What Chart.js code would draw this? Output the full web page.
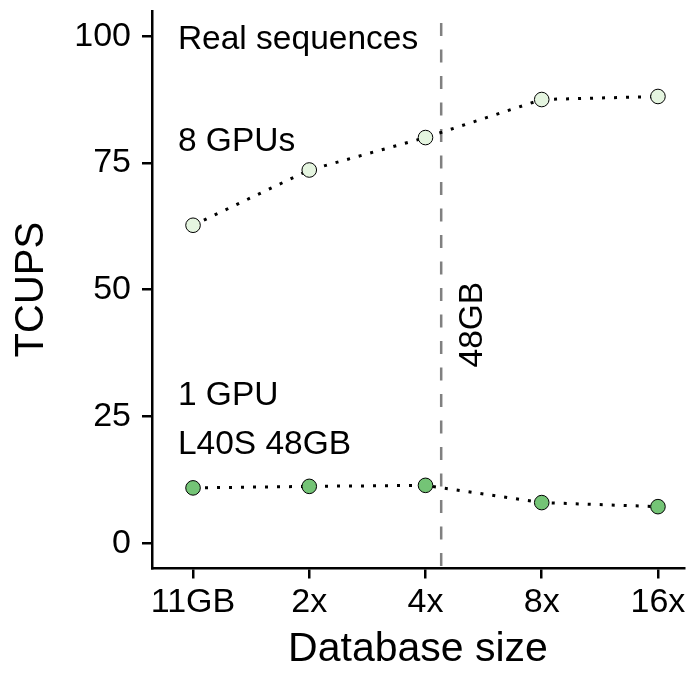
<!DOCTYPE html>
<html>
<head>
<meta charset="utf-8">
<script src="https://cdn.jsdelivr.net/npm/chart.js@4"></script>
<style>
  body { margin: 0; background: #fff; }
  #tcupsChart { display: block; }
</style>
</head>
<body>
<canvas id="tcupsChart" width="694" height="673"></canvas>
<script>
  const categories = ["11GB", "2x", "4x", "8x", "16x"];
  const eightGpus = [62.7, 73.6, 80.0, 87.5, 88.1];
  const oneGpu = [10.9, 11.2, 11.4, 8.0, 7.2];
  const yTicks = [0, 25, 50, 75, 100];
  const memoryLimit = 2.135; // where the 48GB line sits between 4x and 8x

  const FONT = "'Liberation Sans', Arial, Helvetica, sans-serif";

  // text notes + the dashed 48GB line, placed with the chart's own scales
  const notesPlugin = {
    id: "notes",
    beforeDatasetsDraw(chart) {
      const { ctx, chartArea, scales } = chart;
      const lx = scales.x.getPixelForValue(memoryLimit);
      ctx.save();
      ctx.strokeStyle = "#808080";
      ctx.lineWidth = 2.5;
      ctx.setLineDash([13, 13.5]);
      ctx.beginPath();
      ctx.moveTo(lx, scales.y.getPixelForValue(102.6));
      ctx.lineTo(lx, chartArea.bottom);
      ctx.stroke();
      ctx.restore();
    },
    afterDatasetsDraw(chart) {
      const { ctx, scales } = chart;
      const notes = [
        { text: "Real sequences", x: -0.13, y: 99.2 },
        { text: "8 GPUs", x: -0.13, y: 79.1 },
        { text: "1 GPU", x: -0.13, y: 29.0 },
        { text: "L40S 48GB", x: -0.13, y: 19.4 },
      ];
      ctx.save();
      ctx.fillStyle = "#000";
      ctx.font = "33.5px " + FONT;
      ctx.textAlign = "left";
      ctx.textBaseline = "middle";
      notes.forEach((n) => {
        ctx.fillText(n.text, scales.x.getPixelForValue(n.x), scales.y.getPixelForValue(n.y));
      });
      // rotated label beside the memory line
      ctx.translate(scales.x.getPixelForValue(2.41), scales.y.getPixelForValue(43.1));
      ctx.rotate(-Math.PI / 2);
      ctx.textAlign = "center";
      ctx.fillText("48GB", 0, 0);
      ctx.restore();
    },
  };

  const axisGrid = {
    drawOnChartArea: false,
    drawTicks: true,
    tickLength: 10,
    color: "#000",
    lineWidth: 2.5,
  };

  new Chart(document.getElementById("tcupsChart"), {
    type: "line",
    data: {
      datasets: [
        {
          label: "8 GPUs",
          data: eightGpus.map((v, i) => ({ x: i, y: v })),
          borderColor: "#000",
          borderWidth: 3,
          borderDash: [3, 9],
          pointRadius: 7.3,
          pointBorderWidth: 1,
          pointBorderColor: "#000",
          pointBackgroundColor: "#e5f5e0",
          tension: 0,
        },
        {
          label: "1 GPU",
          data: oneGpu.map((v, i) => ({ x: i, y: v })),
          borderColor: "#000",
          borderWidth: 3,
          borderDash: [3, 9],
          pointRadius: 7.3,
          pointBorderWidth: 1,
          pointBorderColor: "#000",
          pointBackgroundColor: "#74c476",
          tension: 0,
        },
      ],
    },
    options: {
      responsive: false,
      animation: false,
      devicePixelRatio: 1,
      layout: { padding: { top: 10.8, right: 10, left: 0, bottom: 0 } },
      plugins: {
        legend: { display: false },
        tooltip: { enabled: false },
      },
      scales: {
        x: {
          type: "linear",
          min: -0.353,
          max: 4.224,
          afterBuildTicks: (s) => {
            s.ticks = categories.map((c, i) => ({ value: i }));
          },
          afterFit: (s) => {
            s.height = 104.5;
            s.paddingLeft = 0;
            s.paddingRight = 0;
          },
          ticks: {
            callback: (v) => categories[v],
            color: "#000",
            font: { family: FONT, size: 34 },
            padding: 4,
            maxRotation: 0,
            autoSkip: false,
          },
          grid: axisGrid,
          border: { display: true, color: "#000", width: 2.5 },
          title: {
            display: true,
            text: "Database size",
            color: "#000",
            font: { family: FONT, size: 41, lineHeight: 1 },
            padding: { top: 0, bottom: 2.5 },
          },
        },
        y: {
          min: -5,
          max: 105,
          afterBuildTicks: (s) => {
            s.ticks = yTicks.map((v) => ({ value: v }));
          },
          afterFit: (s) => {
            s.width = 152;
            s.paddingTop = 0;
            s.paddingBottom = 0;
          },
          ticks: {
            color: "#000",
            font: { family: FONT, size: 34 },
            padding: 11,
          },
          grid: axisGrid,
          border: { display: true, color: "#000", width: 2.5 },
          title: {
            display: true,
            text: "TCUPS",
            color: "#000",
            font: { family: FONT, size: 40, lineHeight: 1 },
            padding: { top: 12, bottom: 0 },
          },
        },
      },
    },
    plugins: [notesPlugin],
  });
</script>
</body>
</html>
